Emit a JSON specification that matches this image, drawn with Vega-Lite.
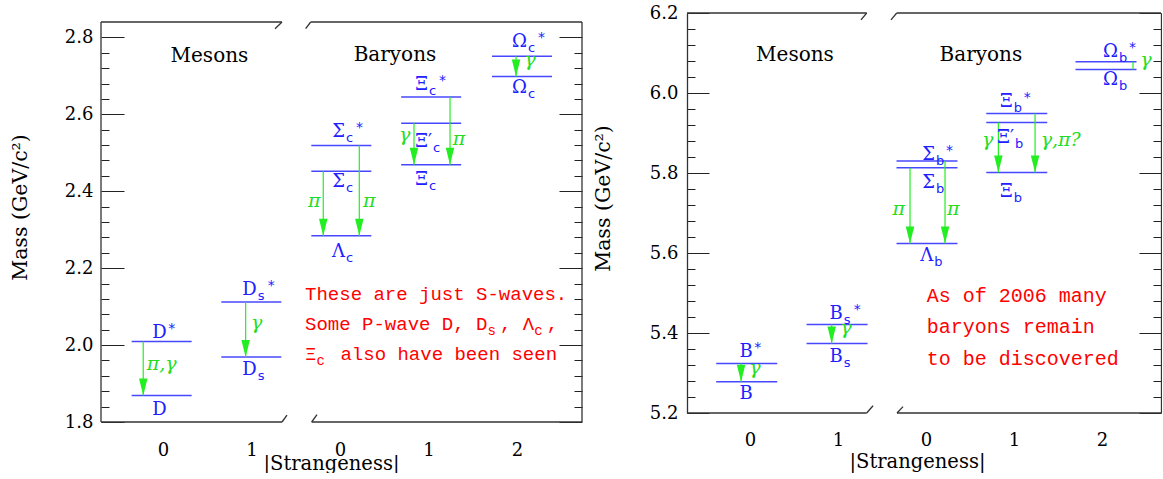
{
 "$schema": "https://vega.github.io/schema/vega-lite/v6.json",
 "background": "white",
 "padding": {"left": 10, "top": 4, "right": 0, "bottom": 0},
 "spacing": 10,
 "config": {"view": {"stroke": null}, "font": "DejaVu Serif",
  "axis": {"titleFont": "DejaVu Serif", "labelFont": "DejaVu Serif", "titleFontWeight": "normal", "labelFontSize": 18}},
 "datasets": {
  "c": [
   {"k":"f","x":-0.7,"m":2.84,"x2":1.345,"m2":2.84},
   {"k":"f","x":1.266,"m":2.8226,"x2":1.345,"m2":2.84},
   {"k":"f","x":1.669,"m":2.84,"x2":4.734,"m2":2.84},
   {"k":"f","x":1.612,"m":2.8226,"x2":1.669,"m2":2.84},
   {"k":"f","x":-0.7,"m":1.8,"x2":1.345,"m2":1.8},
   {"k":"f","x":1.345,"m":1.8,"x2":1.401,"m2":1.818},
   {"k":"f","x":1.68,"m":1.8,"x2":4.734,"m2":1.8},
   {"k":"f","x":1.68,"m":1.8,"x2":1.74,"m2":1.819},
   {"k":"f","x":-0.7,"m":1.8,"x2":-0.7,"m2":2.84},
   {"k":"f","x":4.734,"m":1.8,"x2":4.734,"m2":2.84},
   {"k":"l","x":-0.015,"m":1.869},
   {"k":"l","x":-0.015,"m":2.009},
   {"k":"l","x":0.998,"m":1.969},
   {"k":"l","x":0.998,"m":2.112},
   {"k":"l","x":2.015,"m":2.284},
   {"k":"l","x":2.015,"m":2.452},
   {"k":"l","x":2.015,"m":2.519},
   {"k":"l","x":3.03,"m":2.469},
   {"k":"l","x":3.03,"m":2.577},
   {"k":"l","x":3.03,"m":2.645},
   {"k":"l","x":4.056,"m":2.698},
   {"k":"l","x":4.056,"m":2.751},
   {"k":"a","x":-0.223,"m":1.869,"m2":2.009},
   {"k":"a","x":0.934,"m":1.969,"m2":2.112},
   {"k":"a","x":1.811,"m":2.284,"m2":2.452},
   {"k":"a","x":2.218,"m":2.284,"m2":2.519},
   {"k":"a","x":2.836,"m":2.469,"m2":2.577},
   {"k":"a","x":3.243,"m":2.469,"m2":2.645},
   {"k":"a","x":3.989,"m":2.698,"m2":2.751},
   {"k":"b","x":0.042,"m":2.0176,"t":"D","sup":"*"},
   {"k":"b","x":0.042,"m":1.8182,"t":"D"},
   {"k":"b","x":1.059,"m":2.13,"t":"D","sub":"s","sup":"*"},
   {"k":"b","x":1.059,"m":1.922,"t":"D","sub":"s"},
   {"k":"b","x":2.056,"m":2.54,"t":"Σ","sub":"c","sup":"*"},
   {"k":"b","x":2.056,"m":2.412,"t":"Σ","sub":"c"},
   {"k":"b","x":2.056,"m":2.23,"t":"Λ","sub":"c"},
   {"k":"b","x":2.994,"m":2.663,"t":"Ξ","sub":"c","sup":"*"},
   {"k":"b","x":3.04,"m":2.516,"t":"Ξ′","sub":"c"},
   {"k":"b","x":2.994,"m":2.416,"t":"Ξ","sub":"c"},
   {"k":"b","x":4.113,"m":2.776,"t":"Ω","sub":"c","sup":"*"},
   {"k":"b","x":4.113,"m":2.655,"t":"Ω","sub":"c"},
   {"k":"g","x":-0.015,"m":1.934,"t":"π,γ"},
   {"k":"g","x":1.058,"m":2.043,"t":"γ"},
   {"k":"g","x":1.71,"m":2.36,"t":"π"},
   {"k":"g","x":2.33,"m":2.36,"t":"π"},
   {"k":"g","x":2.73,"m":2.531,"t":"γ"},
   {"k":"g","x":3.345,"m":2.52,"t":"π"},
   {"k":"g","x":4.147,"m":2.726,"t":"γ"},
   {"k":"h","x":0.525,"m":2.737,"t":"Mesons"},
   {"k":"h","x":2.621,"m":2.7387,"t":"Baryons"},
   {"k":"r","x":1.605,"m":2.117,"t":"These are just S-waves."},
   {"k":"r","x":1.605,"m":2.039,"t":"Some P-wave D, D"},
   {"k":"rs","x":3.666,"m":2.039,"t":"s"},
   {"k":"r","x":3.808,"m":2.039,"t":", Λ"},
   {"k":"rs","x":4.194,"m":2.039,"t":"c"},
   {"k":"r","x":4.336,"m":2.039,"t":","},
   {"k":"r","x":1.605,"m":1.961,"t":"Ξ"},
   {"k":"rs","x":1.734,"m":1.961,"t":"c"},
   {"k":"r","x":2.005,"m":1.961,"t":"also have been seen"}
  ],
  "b": [
   {"k":"f","x":-0.716,"m":6.2,"x2":1.326,"m2":6.2},
   {"k":"f","x":1.261,"m":6.183,"x2":1.326,"m2":6.2},
   {"k":"f","x":1.667,"m":6.2,"x2":4.67,"m2":6.2},
   {"k":"f","x":1.602,"m":6.183,"x2":1.667,"m2":6.2},
   {"k":"f","x":-0.716,"m":5.2,"x2":1.326,"m2":5.2},
   {"k":"f","x":1.326,"m":5.2,"x2":1.398,"m2":5.218},
   {"k":"f","x":1.67,"m":5.2,"x2":4.67,"m2":5.2},
   {"k":"f","x":1.67,"m":5.2,"x2":1.739,"m2":5.216},
   {"k":"l","x":-0.0375,"m":5.278},
   {"k":"l","x":-0.0375,"m":5.324},
   {"k":"l","x":0.989,"m":5.374},
   {"k":"l","x":0.989,"m":5.421},
   {"k":"l","x":2.011,"m":5.624},
   {"k":"l","x":2.011,"m":5.813},
   {"k":"l","x":2.011,"m":5.83},
   {"k":"l","x":3.031,"m":5.801},
   {"k":"l","x":3.031,"m":5.926},
   {"k":"l","x":3.031,"m":5.949},
   {"k":"l","x":4.045,"m":6.059},
   {"k":"l","x":4.045,"m":6.078},
   {"k":"a","x":-0.102,"m":5.278,"m2":5.324},
   {"k":"a","x":0.928,"m":5.374,"m2":5.421},
   {"k":"a","x":1.818,"m":5.624,"m2":5.813},
   {"k":"a","x":2.216,"m":5.624,"m2":5.83},
   {"k":"a","x":2.822,"m":5.801,"m2":5.926},
   {"k":"a","x":3.239,"m":5.801,"m2":5.949},
   {"k":"a","x":4.352,"m":6.059,"m2":6.078},
   {"k":"b","x":0.03,"m":5.339,"t":"B","sup":"*"},
   {"k":"b","x":0.03,"m":5.234,"t":"B"},
   {"k":"b","x":1.053,"m":5.434,"t":"B","sub":"s","sup":"*"},
   {"k":"b","x":1.053,"m":5.328,"t":"B","sub":"s"},
   {"k":"b","x":2.083,"m":5.581,"t":"Λ","sub":"b"},
   {"k":"b","x":2.102,"m":5.8325,"t":"Σ","sub":"b","sup":"*"},
   {"k":"b","x":2.102,"m":5.762,"t":"Σ","sub":"b"},
   {"k":"b","x":2.985,"m":5.964,"t":"Ξ","sub":"b","sup":"*"},
   {"k":"b","x":3.0,"m":5.874,"t":"Ξ′","sub":"b"},
   {"k":"b","x":2.985,"m":5.741,"t":"Ξ","sub":"b"},
   {"k":"b","x":4.18,"m":6.091,"t":"Ω","sub":"b","sup":"*"},
   {"k":"b","x":4.18,"m":6.02,"t":"Ω","sub":"b"},
   {"k":"g","x":0.057,"m":5.2975,"t":"γ"},
   {"k":"g","x":1.09,"m":5.3975,"t":"γ"},
   {"k":"g","x":1.69,"m":5.695,"t":"π"},
   {"k":"g","x":2.31,"m":5.695,"t":"π"},
   {"k":"g","x":2.7,"m":5.868,"t":"γ"},
   {"k":"g","x":3.53,"m":5.868,"t":"γ,π?"},
   {"k":"g","x":4.5,"m":6.068,"t":"γ"},
   {"k":"h","x":0.511,"m":6.08,"t":"Mesons"},
   {"k":"h","x":2.623,"m":6.08,"t":"Baryons"},
   {"k":"r","x":2.008,"m":5.478,"t":"As of 2006 many"},
   {"k":"r","x":2.008,"m":5.4,"t":"baryons remain"},
   {"k":"r","x":2.008,"m":5.32,"t":"to be discovered"}
  ]
 },
 "hconcat": [
  {
   "width": 481, "height": 409,
   "data": {"name": "c"},
   "encoding": {
    "x": {"field":"x","type":"quantitative","scale":{"domain":[-0.7,4.734],"nice":false,"zero":false},
     "axis":{"orient":"bottom","values":[0,1,2,3,4],"labelExpr":"datum.value < 2 ? format(datum.value,'d') : format(datum.value - 2,'d')","tickSize":0,"tickColor":"transparent","domain":false,"grid":false,"labelFont":"DejaVu Serif","labelFontSize":18,"labelColor":"#000000","labelBaseline":"alphabetic","labelPadding":33,"labelFlush":false,"labelOverlap":false,"title":"|Strangeness|","titleFont":"DejaVu Serif","titleFontSize":19.5,"titleFontWeight":"normal","titleColor":"#000000","titleX":230,"titleY":47,"titleBaseline":"alphabetic","titleAlign":"center"}},
    "y": {"field":"m","type":"quantitative","scale":{"domain":[1.8,2.8634],"nice":false,"zero":false},"axis":null}
   },
   "layer": [
    {"transform":[{"filter":"datum.k==='f'"}],
     "mark":{"type":"rule","color":"#333333","strokeWidth":1.3},
     "encoding":{
      "y":{"field":"m","type":"quantitative","scale":{"domain":[1.8,2.8634],"nice":false,"zero":false},
       "axis":{"orient":"left","values":[1.8,1.84,1.88,1.92,1.96,2,2.04,2.08,2.12,2.16,2.2,2.24,2.28,2.32,2.36,2.4,2.44,2.48,2.52,2.56,2.6,2.64,2.68,2.72,2.76,2.8],
        "labelExpr":"abs(datum.value*5 - round(datum.value*5)) < 0.001 ? format(datum.value, '.1f') : ''",
        "tickSize":{"condition":{"test":"abs(datum.value*5 - round(datum.value*5)) < 0.001","value":-23},"value":-8},
        "tickColor":"#222222","domain":false,"grid":false,"labelPadding":31,"labelFont":"DejaVu Serif","labelFontSize":18,"labelColor":"#000000","labelOverlap":false,
        "title":"Mass (GeV/c²)","titleFont":"DejaVu Serif","titleFontSize":20.5,"titleFontWeight":"normal","titleColor":"#000000","titleX":-81,"titleY":194,"titleBaseline":"middle","titleAlign":"center","titleAngle":-90}},
      "x2":{"field":"x2"},"y2":{"field":"m2"}}},
    {"transform":[{"filter":"datum.k==='l'"}],
     "mark":{"type":"tick","orient":"horizontal","size":60,"thickness":1.5,"color":"#4747ff","opacity":1},
     "encoding":{
      "y":{"field":"m","type":"quantitative","scale":{"domain":[1.8,2.8634],"nice":false,"zero":false},
       "axis":{"orient":"right","values":[1.8,1.84,1.88,1.92,1.96,2,2.04,2.08,2.12,2.16,2.2,2.24,2.28,2.32,2.36,2.4,2.44,2.48,2.52,2.56,2.6,2.64,2.68,2.72,2.76,2.8],
        "labels":false,"title":null,"grid":false,"domain":false,
        "tickSize":{"condition":{"test":"abs(datum.value*5 - round(datum.value*5)) < 0.001","value":-23},"value":-8},
        "tickColor":"#222222"}}}},
    {"transform":[{"filter":"datum.k==='a'"}],
     "mark":{"type":"rule","color":"#22ee22","strokeWidth":1.2},
     "encoding":{"y2":{"field":"m2"}}},
    {"transform":[{"filter":"datum.k==='a' && datum.m2 - datum.m > 0.03"}],
     "mark":{"type":"point","shape":"M -0.5 -2 L 0.5 -2 L 0 0 Z","size":289,"filled":true,"color":"#22ee22","opacity":1,"strokeWidth":0}},
    {"transform":[{"filter":"datum.k==='b'"}],
     "mark":{"type":"text","align":"right","baseline":"alphabetic","font":"DejaVu Serif","fontSize":18,"color":"#2020ff"},
     "encoding":{"text":{"field":"t"}}},
    {"transform":[{"filter":"datum.k==='b' && datum.sub"}],
     "mark":{"type":"text","align":"left","baseline":"alphabetic","font":"DejaVu Sans","fontSize":13,"color":"#2020ff","dx":1,"dy":5},
     "encoding":{"text":{"field":"sub"}}},
    {"transform":[{"filter":"datum.k==='b' && datum.sup && !datum.sub"}],
     "mark":{"type":"text","align":"left","baseline":"alphabetic","font":"DejaVu Sans","fontSize":14,"color":"#2020ff","dx":1.5,"dy":-5},
     "encoding":{"text":{"field":"sup"}}},
    {"transform":[{"filter":"datum.k==='b' && datum.sup && datum.sub"}],
     "mark":{"type":"text","align":"left","baseline":"alphabetic","font":"DejaVu Sans","fontSize":14,"color":"#2020ff","dx":11,"dy":-5},
     "encoding":{"text":{"field":"sup"}}},
    {"transform":[{"filter":"datum.k==='g'"}],
     "mark":{"type":"text","align":"center","baseline":"alphabetic","font":"DejaVu Serif","fontStyle":"italic","fontSize":19,"color":"#22dd22"},
     "encoding":{"text":{"field":"t"}}},
    {"transform":[{"filter":"datum.k==='h'"}],
     "mark":{"type":"text","align":"center","baseline":"alphabetic","font":"DejaVu Serif","fontSize":20,"color":"#000000"},
     "encoding":{"text":{"field":"t"}}},
    {"transform":[{"filter":"datum.k==='r'"}],
     "mark":{"type":"text","align":"left","baseline":"alphabetic","font":"Liberation Mono","fontSize":19,"color":"#ff0000"},
     "encoding":{"text":{"field":"t"}}},
    {"transform":[{"filter":"datum.k==='rs'"}],
     "mark":{"type":"text","align":"left","baseline":"alphabetic","font":"Liberation Mono","fontSize":14,"color":"#ff0000","dy":5},
     "encoding":{"text":{"field":"t"}}}
   ],
   "resolve": {"axis": {"y": "independent"}}
  },
  {
   "width": 474, "height": 400,
   "data": {"name": "b"},
   "encoding": {
    "x": {"field":"x","type":"quantitative","scale":{"domain":[-0.716,4.67],"nice":false,"zero":false},
     "axis":{"orient":"bottom","values":[0,1,2,3,4],"labelExpr":"datum.value < 2 ? format(datum.value,'d') : format(datum.value - 2,'d')","tickSize":0,"tickColor":"transparent","domain":false,"grid":false,"labelFont":"DejaVu Serif","labelFontSize":18,"labelColor":"#000000","labelBaseline":"alphabetic","labelPadding":32,"labelFlush":false,"labelOverlap":false,"title":"|Strangeness|","titleFont":"DejaVu Serif","titleFontSize":19.5,"titleFontWeight":"normal","titleColor":"#000000","titleX":230,"titleY":54,"titleBaseline":"alphabetic","titleAlign":"center"}},
    "y": {"field":"m","type":"quantitative","scale":{"domain":[5.2,6.2],"nice":false,"zero":false},"axis":null}
   },
   "layer": [
    {"transform":[{"filter":"datum.k==='f'"}],
     "mark":{"type":"rule","color":"#333333","strokeWidth":1.3},
     "encoding":{
      "y":{"field":"m","type":"quantitative","scale":{"domain":[5.2,6.2],"nice":false,"zero":false},
       "axis":{"orient":"left","values":[5.2,5.24,5.28,5.32,5.36,5.4,5.44,5.48,5.52,5.56,5.6,5.64,5.68,5.72,5.76,5.8,5.84,5.88,5.92,5.96,6,6.04,6.08,6.12,6.16,6.2],
        "labelExpr":"abs(datum.value*5 - round(datum.value*5)) < 0.001 ? format(datum.value, '.1f') : ''",
        "tickSize":{"condition":{"test":"abs(datum.value*5 - round(datum.value*5)) < 0.001","value":-22},"value":-8},
        "tickColor":"#222222","domainColor":"#333333","domainWidth":1.3,"grid":false,"labelPadding":31,"labelFont":"DejaVu Serif","labelFontSize":18,"labelColor":"#000000","labelOverlap":false,
        "title":"Mass (GeV/c²)","titleFont":"DejaVu Serif","titleFontSize":20.5,"titleFontWeight":"normal","titleColor":"#000000","titleX":-84,"titleY":185,"titleBaseline":"middle","titleAlign":"center","titleAngle":-90}},
      "x2":{"field":"x2"},"y2":{"field":"m2"}}},
    {"transform":[{"filter":"datum.k==='l'"}],
     "mark":{"type":"tick","orient":"horizontal","size":61,"thickness":1.5,"color":"#4747ff","opacity":1},
     "encoding":{
      "y":{"field":"m","type":"quantitative","scale":{"domain":[5.2,6.2],"nice":false,"zero":false},
       "axis":{"orient":"right","values":[5.2,5.24,5.28,5.32,5.36,5.4,5.44,5.48,5.52,5.56,5.6,5.64,5.68,5.72,5.76,5.8,5.84,5.88,5.92,5.96,6,6.04,6.08,6.12,6.16,6.2],
        "labels":false,"title":null,"grid":false,
        "tickSize":{"condition":{"test":"abs(datum.value*5 - round(datum.value*5)) < 0.001","value":-22},"value":-8},
        "tickColor":"#222222","domainColor":"#333333","domainWidth":1.3}}}},
    {"transform":[{"filter":"datum.k==='a'"}],
     "mark":{"type":"rule","color":"#22ee22","strokeWidth":1.2},
     "encoding":{"y2":{"field":"m2"}}},
    {"transform":[{"filter":"datum.k==='a' && datum.m2 - datum.m > 0.03"}],
     "mark":{"type":"point","shape":"M -0.5 -2 L 0.5 -2 L 0 0 Z","size":289,"filled":true,"color":"#22ee22","opacity":1,"strokeWidth":0}},
    {"transform":[{"filter":"datum.k==='b'"}],
     "mark":{"type":"text","align":"right","baseline":"alphabetic","font":"DejaVu Serif","fontSize":18,"color":"#2020ff"},
     "encoding":{"text":{"field":"t"}}},
    {"transform":[{"filter":"datum.k==='b' && datum.sub"}],
     "mark":{"type":"text","align":"left","baseline":"alphabetic","font":"DejaVu Sans","fontSize":13,"color":"#2020ff","dx":1,"dy":5},
     "encoding":{"text":{"field":"sub"}}},
    {"transform":[{"filter":"datum.k==='b' && datum.sup && !datum.sub"}],
     "mark":{"type":"text","align":"left","baseline":"alphabetic","font":"DejaVu Sans","fontSize":14,"color":"#2020ff","dx":1.5,"dy":-5},
     "encoding":{"text":{"field":"sup"}}},
    {"transform":[{"filter":"datum.k==='b' && datum.sup && datum.sub"}],
     "mark":{"type":"text","align":"left","baseline":"alphabetic","font":"DejaVu Sans","fontSize":14,"color":"#2020ff","dx":11,"dy":-5},
     "encoding":{"text":{"field":"sup"}}},
    {"transform":[{"filter":"datum.k==='g'"}],
     "mark":{"type":"text","align":"center","baseline":"alphabetic","font":"DejaVu Serif","fontStyle":"italic","fontSize":19,"color":"#22dd22"},
     "encoding":{"text":{"field":"t"}}},
    {"transform":[{"filter":"datum.k==='h'"}],
     "mark":{"type":"text","align":"center","baseline":"alphabetic","font":"DejaVu Serif","fontSize":20,"color":"#000000"},
     "encoding":{"text":{"field":"t"}}},
    {"transform":[{"filter":"datum.k==='r'"}],
     "mark":{"type":"text","align":"left","baseline":"alphabetic","font":"Liberation Mono","fontSize":20,"color":"#ff0000"},
     "encoding":{"text":{"field":"t"}}}
   ],
   "resolve": {"axis": {"y": "independent"}}
  }
 ]
}
